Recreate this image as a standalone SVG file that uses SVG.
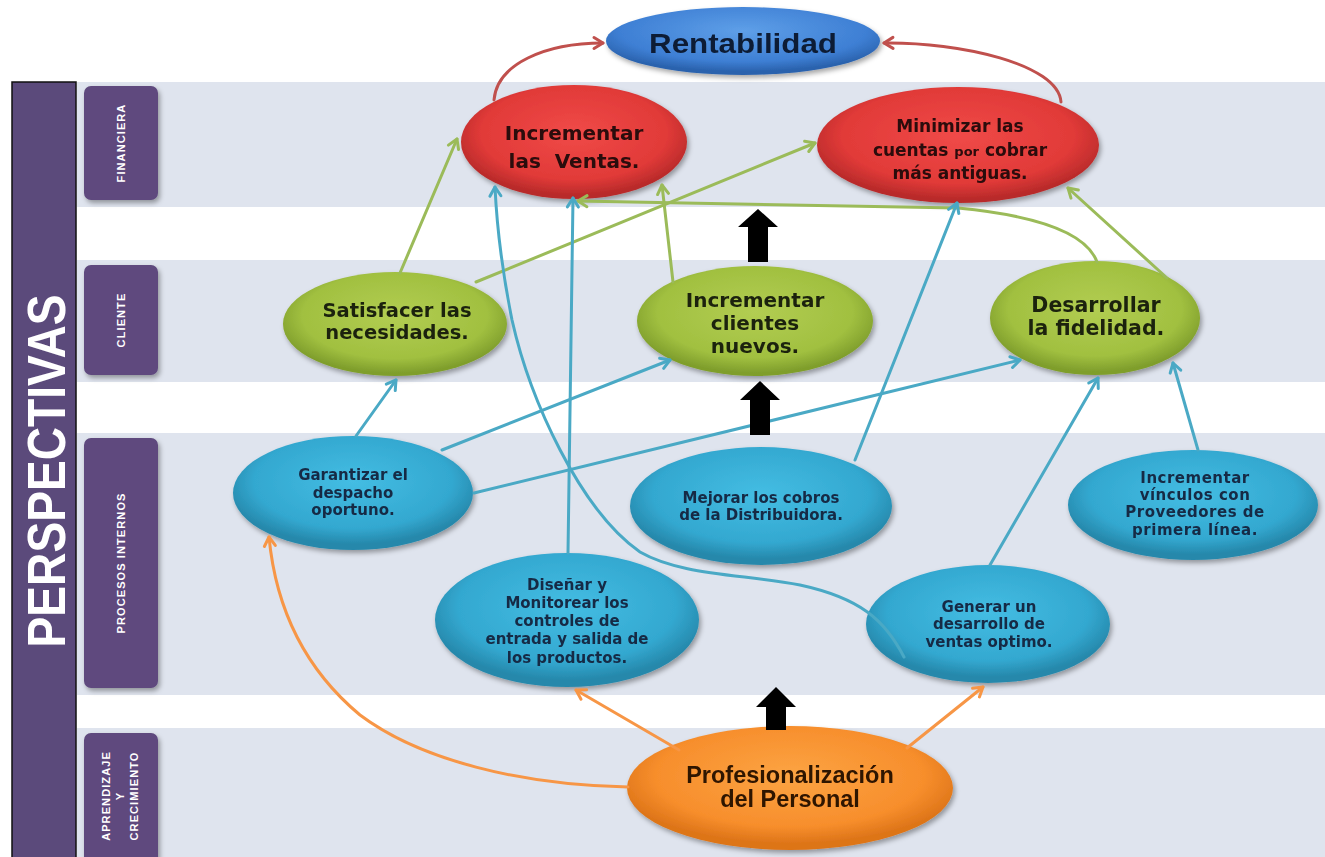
<svg xmlns="http://www.w3.org/2000/svg" width="1325" height="857" viewBox="0 0 1325 857">
  <defs>
    <style>
      .band { fill: #dfe4ee; }
      .tab { fill: #5e4a7e; }
      .tabtxt { fill: #ffffff; font-family: "Liberation Sans", Arial, sans-serif; font-size: 11px; font-weight: bold; letter-spacing: 1.1px; text-anchor: middle; }
      .node { filter: url(#shadow); }
      .big { font-family: "DejaVu Sans", Verdana, sans-serif; font-weight: bold; text-anchor: middle; }
      .small { font-family: "DejaVu Sans", Verdana, sans-serif; font-weight: bold; text-anchor: middle; font-size: 15px; fill: #172a45; }
      .lnk { fill: none; stroke-width: 3; stroke-linecap: round; }
      .g { stroke: #9bbb59; marker-end: url(#ag); }
      .b { stroke: #4aa9c5; marker-end: url(#ab); }
      .o { stroke: #f79646; marker-end: url(#ao); }
      .r { stroke: #c0504d; marker-end: url(#ar); }
      .block { fill: #000000; }
    </style>
    <filter id="shadow" x="-20%" y="-20%" width="140%" height="150%">
      <feDropShadow dx="2" dy="3" stdDeviation="2.5" flood-color="#000000" flood-opacity="0.35"/>
    </filter>
    <radialGradient id="gRed" cx="50%" cy="42%" r="55%">
      <stop offset="0" stop-color="#f04a48"/>
      <stop offset="0.75" stop-color="#e13a38"/>
      <stop offset="1" stop-color="#b82a2a"/>
    </radialGradient>
    <radialGradient id="gBlue" cx="50%" cy="35%" r="60%">
      <stop offset="0" stop-color="#5e9fe8"/>
      <stop offset="0.75" stop-color="#3e7fd4"/>
      <stop offset="1" stop-color="#2a62ad"/>
    </radialGradient>
    <radialGradient id="gGreen" cx="50%" cy="42%" r="55%">
      <stop offset="0" stop-color="#b2cd52"/>
      <stop offset="0.75" stop-color="#a1c040"/>
      <stop offset="1" stop-color="#7f9e2c"/>
    </radialGradient>
    <radialGradient id="gCyan" cx="50%" cy="40%" r="55%">
      <stop offset="0" stop-color="#44bde3"/>
      <stop offset="0.75" stop-color="#33a8d0"/>
      <stop offset="1" stop-color="#2688ab"/>
    </radialGradient>
    <radialGradient id="gOrange" cx="50%" cy="40%" r="55%">
      <stop offset="0" stop-color="#fca443"/>
      <stop offset="0.75" stop-color="#f78e2c"/>
      <stop offset="1" stop-color="#dd7418"/>
    </radialGradient>
    <marker id="ag" markerUnits="userSpaceOnUse" markerWidth="16" markerHeight="16" refX="12" refY="8" orient="auto">
      <path d="M3,2.5 L12,8 L3,13.5" fill="none" stroke="#9bbb59" stroke-width="3" stroke-linecap="round" stroke-linejoin="round"/>
    </marker>
    <marker id="ab" markerUnits="userSpaceOnUse" markerWidth="16" markerHeight="16" refX="12" refY="8" orient="auto">
      <path d="M3,2.5 L12,8 L3,13.5" fill="none" stroke="#4aa9c5" stroke-width="3" stroke-linecap="round" stroke-linejoin="round"/>
    </marker>
    <marker id="ao" markerUnits="userSpaceOnUse" markerWidth="16" markerHeight="16" refX="12" refY="8" orient="auto">
      <path d="M3,2.5 L12,8 L3,13.5" fill="none" stroke="#f79646" stroke-width="3" stroke-linecap="round" stroke-linejoin="round"/>
    </marker>
    <marker id="ar" markerUnits="userSpaceOnUse" markerWidth="16" markerHeight="16" refX="12" refY="8" orient="auto">
      <path d="M3,2.5 L12,8 L3,13.5" fill="none" stroke="#c0504d" stroke-width="3" stroke-linecap="round" stroke-linejoin="round"/>
    </marker>
  </defs>

  <rect width="1325" height="857" fill="#ffffff"/>

  <!-- perspective bands -->
  <g id="bands">
    <rect class="band" x="77" y="82" width="1248" height="125"/>
    <rect class="band" x="77" y="260" width="1248" height="122"/>
    <rect class="band" x="77" y="433" width="1248" height="262"/>
    <rect class="band" x="77" y="728" width="1248" height="129"/>
  </g>

  <!-- side titles -->
  <g id="perspectivas">
    <rect x="12" y="82" width="64" height="780" fill="#5b4a7b" stroke="#111111" stroke-width="1.5"/>
    <text transform="translate(65,471) rotate(-90)" text-anchor="middle" fill="#ffffff" font-family="Liberation Sans, Arial, sans-serif" font-weight="bold" font-size="54" textLength="353" lengthAdjust="spacingAndGlyphs">PERSPECTIVAS</text>
  </g>
  <g id="tab-financiera">
    <rect class="tab" x="84" y="86" width="74" height="114" rx="7" filter="url(#shadow)"/>
    <text class="tabtxt" transform="translate(125,143) rotate(-90)">FINANCIERA</text>
  </g>
  <g id="tab-cliente">
    <rect class="tab" x="84" y="265" width="74" height="110" rx="7" filter="url(#shadow)"/>
    <text class="tabtxt" transform="translate(125,320) rotate(-90)">CLIENTE</text>
  </g>
  <g id="tab-procesos">
    <rect class="tab" x="84" y="438" width="74" height="250" rx="7" filter="url(#shadow)"/>
    <text class="tabtxt" transform="translate(125,563) rotate(-90)">PROCESOS INTERNOS</text>
  </g>
  <g id="tab-aprendizaje">
    <rect class="tab" x="84" y="733" width="74" height="135" rx="7" filter="url(#shadow)"/>
    <text class="tabtxt" transform="translate(110,796) rotate(-90)">APRENDIZAJE</text>
    <text class="tabtxt" transform="translate(124,796) rotate(-90)">Y</text>
    <text class="tabtxt" transform="translate(138,796) rotate(-90)">CRECIMIENTO</text>
  </g>

  <!-- objectives -->
  <g id="rentabilidad" class="node">
    <ellipse cx="743" cy="41" rx="137" ry="34" fill="url(#gBlue)"/>
    <text x="743" y="53" text-anchor="middle" font-family="Liberation Sans, Arial, sans-serif" font-weight="bold" font-size="28" fill="#0f1d36" textLength="188" lengthAdjust="spacingAndGlyphs">Rentabilidad</text>
  </g>
  <g id="incrementar-ventas" class="node">
    <ellipse cx="574" cy="142" rx="113" ry="57" fill="url(#gRed)"/>
    <text class="big" font-size="20" fill="#2a0808"><tspan x="574" y="140">Incrementar</tspan><tspan x="574" y="168">las&#160; Ventas.</tspan></text>
  </g>
  <g id="minimizar-cuentas" class="node">
    <ellipse cx="958" cy="145" rx="141" ry="58" fill="url(#gRed)"/>
    <text class="big" font-size="17" fill="#2a0808"><tspan x="960" y="132">Minimizar las</tspan><tspan x="960" y="156">cuentas <tspan font-size="13">por</tspan> cobrar</tspan><tspan x="960" y="179">más antiguas.</tspan></text>
  </g>
  <g id="satisfacer" class="node">
    <ellipse cx="395" cy="324" rx="112" ry="52" fill="url(#gGreen)"/>
    <text class="big" font-size="19.5" fill="#1c2410"><tspan x="397" y="317">Satisfacer las</tspan><tspan x="397" y="339">necesidades.</tspan></text>
  </g>
  <g id="clientes-nuevos" class="node">
    <ellipse cx="755" cy="321" rx="118" ry="55" fill="url(#gGreen)"/>
    <text class="big" font-size="20" fill="#1c2410"><tspan x="755" y="307">Incrementar</tspan><tspan x="755" y="330">clientes</tspan><tspan x="755" y="353">nuevos.</tspan></text>
  </g>
  <g id="fidelidad" class="node">
    <ellipse cx="1095" cy="318" rx="105" ry="57" fill="url(#gGreen)"/>
    <text class="big" font-size="20.5" fill="#1c2410"><tspan x="1096" y="312">Desarrollar</tspan><tspan x="1096" y="335">la fidelidad.</tspan></text>
  </g>
  <g id="garantizar" class="node">
    <ellipse cx="353" cy="493" rx="120" ry="57" fill="url(#gCyan)"/>
    <text class="small" font-size="14"><tspan x="353" y="480">Garantizar el</tspan><tspan x="353" y="498">despacho</tspan><tspan x="353" y="515">oportuno.</tspan></text>
  </g>
  <g id="mejorar-cobros" class="node">
    <ellipse cx="761" cy="506" rx="131" ry="59" fill="url(#gCyan)"/>
    <text class="small"><tspan x="761" y="503">Mejorar los cobros</tspan><tspan x="761" y="520">de la Distribuidora.</tspan></text>
  </g>
  <g id="vinculos" class="node">
    <ellipse cx="1193" cy="505" rx="125" ry="55" fill="url(#gCyan)"/>
    <text class="small" letter-spacing="0.5"><tspan x="1195" y="483">Incrementar</tspan><tspan x="1195" y="500">vínculos con</tspan><tspan x="1195" y="517">Proveedores de</tspan><tspan x="1195" y="535">primera línea.</tspan></text>
  </g>
  <g id="disenar" class="node">
    <ellipse cx="567" cy="620" rx="132" ry="67" fill="url(#gCyan)"/>
    <text class="small"><tspan x="567" y="590">Diseñar y</tspan><tspan x="567" y="608">Monitorear los</tspan><tspan x="567" y="626">controles de</tspan><tspan x="567" y="644">entrada y salida de</tspan><tspan x="567" y="663">los productos.</tspan></text>
  </g>
  <g id="generar" class="node">
    <ellipse cx="988" cy="624" rx="122" ry="59" fill="url(#gCyan)"/>
    <text class="small"><tspan x="989" y="612">Generar un</tspan><tspan x="989" y="629">desarrollo de</tspan><tspan x="989" y="647">ventas optimo.</tspan></text>
  </g>
  <g id="profesionalizacion" class="node">
    <ellipse cx="790" cy="788" rx="163" ry="62" fill="url(#gOrange)"/>
    <text text-anchor="middle" font-family="Liberation Sans, Arial, sans-serif" font-weight="bold" font-size="23.5" fill="#2e1200"><tspan x="790" y="783">Profesionalización</tspan><tspan x="790" y="807">del Personal</tspan></text>
  </g>

  <!-- cause and effect links -->
  <g id="connectors">
    <path class="lnk r" d="M494,100 C497,64 545,43 603,43"/>
    <path class="lnk r" d="M1061,102 C1058,64 960,42 884,43"/>

    <path class="lnk g" d="M400,273 L457,139"/>
    <path class="lnk g" d="M476,282 L815,143"/>
    <path class="lnk g" d="M673,282 L662,185"/>
    <path class="lnk g" d="M1097,262 Q1082,220 958,208 L578,201"/>
    <path class="lnk g" d="M1167,278 L1068,188"/>

    <path class="lnk b" d="M356,436 L396,380"/>
    <path class="lnk b" d="M442,450 L670,360"/>
    <path class="lnk b" d="M474,493 L1020,360"/>
    <path class="lnk b" d="M855,460 L957,203"/>
    <path class="lnk b" d="M568,553 L573,198"/>
    <path class="lnk b" d="M904,657 C885,620 860,598 800,585 C740,574 680,575 640,552 C580,510 530,400 512,320 C502,270 497,230 495,187"/>
    <path class="lnk b" d="M990,565 L1098,378"/>
    <path class="lnk b" d="M1198,450 L1173,363"/>

    <path class="lnk o" d="M628,787 C520,785 420,760 360,715 C300,665 275,600 269,537"/>
    <path class="lnk o" d="M679,750 L576,690"/>
    <path class="lnk o" d="M907,748 L983,687"/>

    <path class="block" d="M758,209 L778,227 L768,227 L768,262 L748,262 L748,227 L738,227 Z"/>
    <path class="block" d="M760,381 L780,400 L770,400 L770,435 L750,435 L750,400 L740,400 Z"/>
    <path class="block" d="M776,687 L796,707 L786,707 L786,730 L766,730 L766,707 L756,707 Z"/>
  </g>
</svg>
